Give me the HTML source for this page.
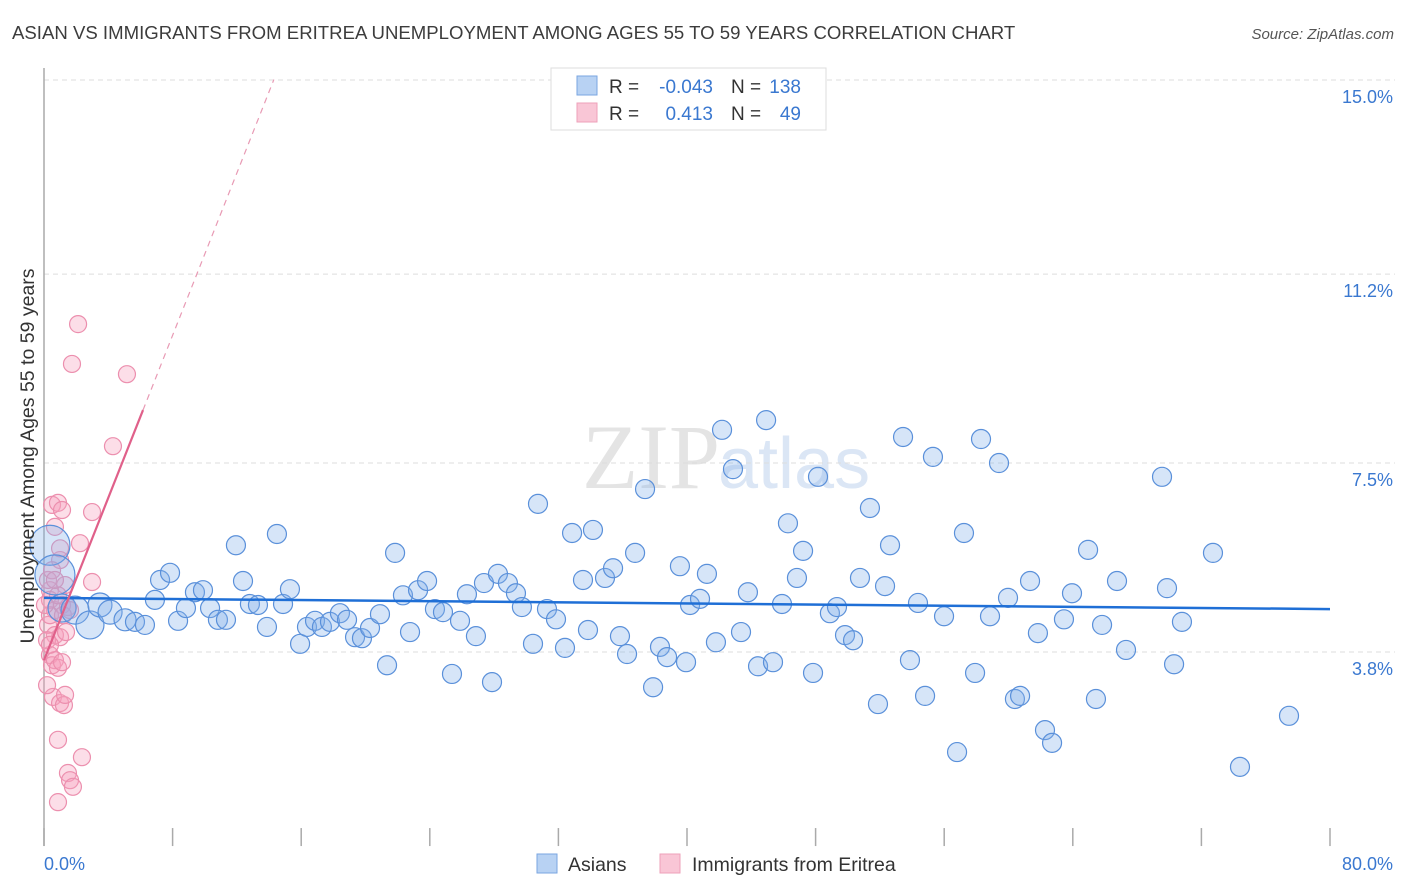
<!DOCTYPE html>
<html><head><meta charset="utf-8"><style>
body{margin:0;background:#fff;font-family:"Liberation Sans",sans-serif;}
#wrap{position:relative;width:1406px;height:892px;overflow:hidden;}
</style></head><body>
<div id="wrap">
<svg id="chart" width="1406" height="892" xmlns="http://www.w3.org/2000/svg">
<text x="12" y="39" font-size="18.6" fill="#3c3c3c">ASIAN VS IMMIGRANTS FROM ERITREA UNEMPLOYMENT AMONG AGES 55 TO 59 YEARS CORRELATION CHART</text>
<text x="1394" y="39" font-size="15" fill="#555" font-style="italic" text-anchor="end">Source: ZipAtlas.com</text>
<text x="720" y="488" font-size="92" fill="#e4e4e4" text-anchor="end" font-family="Liberation Serif">ZIP</text>
<text x="718" y="488" font-size="72" fill="#dbe6f5">atlas</text>
<g id="grid"></g><g id="axes"></g><g id="pinkPts"></g><g id="bluePts"></g><g id="lines"></g>
<text transform="translate(34,456) rotate(-90)" font-size="19.5" fill="#333" text-anchor="middle">Unemployment Among Ages 55 to 59 years</text>
<text x="44" y="870" font-size="18" fill="#3a78d0">0.0%</text>
<text x="1393" y="870" font-size="18" fill="#3a78d0" text-anchor="end">80.0%</text>
<g>
<rect x="551" y="68" width="275" height="62" fill="#fff" stroke="#ddd"/>
<rect x="577" y="76" width="20" height="19" fill="#b8d2f3" stroke="#7aa6e0"/>
<rect x="577" y="103" width="20" height="19" fill="#f9c6d6" stroke="#eea0ba"/>
<text x="609" y="93" font-size="19" fill="#333">R =</text>
<text x="713" y="93" font-size="19" fill="#3a78d0" text-anchor="end">-0.043</text>
<text x="731" y="93" font-size="19" fill="#333">N =</text>
<text x="801" y="93" font-size="19" fill="#3a78d0" text-anchor="end">138</text>
<text x="609" y="120" font-size="19" fill="#333">R =</text>
<text x="713" y="120" font-size="19" fill="#3a78d0" text-anchor="end">0.413</text>
<text x="731" y="120" font-size="19" fill="#333">N =</text>
<text x="801" y="120" font-size="19" fill="#3a78d0" text-anchor="end">49</text>
</g>
<g>
<rect x="537" y="854" width="20" height="19" fill="#b8d2f3" stroke="#7aa6e0"/>
<text x="568" y="871" font-size="19.5" fill="#333">Asians</text>
<rect x="660" y="854" width="20" height="19" fill="#f9c6d6" stroke="#eea0ba"/>
<text x="692" y="871" font-size="19.5" fill="#333">Immigrants from Eritrea</text>
</g>
</svg>
</div>
<script>
const yTicks=[15.0,11.2,7.5,3.8];
const yTickLabels=["15.0%","11.2%","7.5%","3.8%"];
const xTicks=[0,8,16,24,32,40,48,56,64,72,80];
const blueX=[0.37,0.68,1.12,1.93,2.86,3.48,4.11,5.04,5.66,6.28,6.90,7.22,7.84,8.34,8.83,9.39,9.89,10.33,10.82,11.32,11.94,12.38,12.81,13.31,13.87,14.49,14.87,15.30,15.93,16.36,16.86,17.29,17.79,18.41,18.85,19.35,19.78,20.28,20.90,21.34,21.84,22.33,22.77,23.27,23.83,24.32,24.82,25.38,25.88,26.31,26.87,27.37,27.87,28.24,28.86,29.36,29.73,30.42,30.73,31.29,31.85,32.41,32.85,33.53,33.84,34.15,34.90,35.40,35.83,36.27,36.77,37.39,37.89,38.32,38.76,39.56,39.94,40.19,40.81,41.24,41.80,42.18,42.86,43.36,43.79,44.42,44.92,45.35,45.91,46.28,46.84,47.22,47.84,48.15,48.89,49.33,49.83,50.33,50.76,51.38,51.88,52.32,52.63,53.44,53.87,54.37,54.81,55.30,55.99,56.80,57.23,57.92,58.29,58.85,59.41,59.97,60.40,60.72,61.34,61.83,62.27,62.71,63.45,63.95,64.95,65.44,65.82,66.75,67.31,69.55,69.86,70.30,70.79,72.72,74.40,77.45];
const blueY=[5.89,5.31,4.66,4.62,4.33,4.72,4.58,4.43,4.39,4.33,4.82,5.21,5.35,4.41,4.66,4.97,5.01,4.66,4.43,4.43,5.89,5.19,4.74,4.72,4.29,6.11,4.74,5.03,3.96,4.29,4.41,4.29,4.39,4.56,4.43,4.09,4.07,4.27,4.54,3.54,5.74,4.91,4.19,5.01,5.19,4.64,4.58,3.37,4.41,4.93,4.11,5.15,3.21,5.33,5.15,4.95,4.68,3.96,6.70,4.64,4.44,3.88,6.13,5.21,4.23,6.19,5.25,5.44,4.11,3.76,5.74,6.99,3.11,3.90,3.70,5.48,3.60,4.72,4.84,5.33,3.99,8.15,7.38,4.19,4.97,3.52,8.34,3.60,4.74,6.32,5.25,5.78,3.39,7.23,4.56,4.68,4.13,4.03,5.25,6.62,2.78,5.09,5.89,8.01,3.64,4.76,2.94,7.62,4.50,1.84,6.13,3.39,7.97,4.50,7.50,4.86,2.88,2.94,5.19,4.17,2.27,2.02,4.44,4.95,5.80,2.88,4.33,5.19,3.84,7.23,5.05,3.56,4.39,5.74,1.55,2.55];
const blueSize=[20,20,14,14,14,12,12,11];
const pinkX=[0.50,0.87,1.12,0.68,1.00,1.31,2.99,2.24,2.99,0.37,0.37,0.68,1.12,1.49,0.25,0.68,1.00,1.37,0.37,0.50,0.68,0.87,1.12,0.56,1.00,1.24,1.31,0.87,2.36,1.49,1.62,1.80,0.87,2.12,1.74,5.16,4.29,0.37,0.25,0.50,0.87,0.06,0.19,0.68,1.00,0.37,0.19,1.18,1.62];
const pinkY=[6.68,6.72,6.58,6.25,5.60,5.11,6.54,5.93,5.17,5.01,4.82,4.62,4.72,4.68,4.33,4.13,4.09,4.19,3.74,3.54,3.64,3.49,3.60,2.92,2.80,2.76,2.96,2.08,1.74,1.43,1.29,1.16,0.86,10.22,9.44,9.24,7.83,4.52,5.21,5.40,4.91,4.72,4.03,5.21,5.83,3.94,3.15,4.52,4.62];
const blueTrend=[4.86,4.64];
const pinkTrend=[3.64,0.795];
const NS="http://www.w3.org/2000/svg";
const X=v=>44+v/80*1286;
const Y=v=>80+(15-v)*51.07;
function mk(tag,attrs,parent){const e=document.createElementNS(NS,tag);for(const k in attrs)e.setAttribute(k,attrs[k]);document.getElementById(parent).appendChild(e);return e;}
yTicks.forEach((t,i)=>{
  const l=mk('line',{x1:44,x2:1395,y1:Y(t),y2:Y(t),stroke:'#ddd','stroke-dasharray':'5,4'},'grid');
  
  
  const tx=mk('text',{x:1393,y:Y(t)+23,'font-size':18,fill:'#3a78d0','text-anchor':'end'},'grid');
  tx.textContent=yTickLabels[i];
  
  
});
const ax=mk('line',{x1:44,x2:44,y1:68,y2:Y(0),stroke:'#aaa','stroke-width':1.5},'axes');


xTicks.forEach(t=>{
  const l=mk('line',{x1:X(t),x2:X(t),y1:Y(0)-18,y2:Y(0),stroke:'#aaa','stroke-width':1.5},'axes');
  
  
});
pinkX.forEach((x,i)=>{
  const c=mk('circle',{cx:X(x),cy:Y(pinkY[i]),r:8.5,fill:'rgba(245,160,190,0.35)',stroke:'#ec8fae','stroke-width':1.2},'pinkPts');
  
  
});
blueX.forEach((x,i)=>{
  const c=mk('circle',{cx:X(x),cy:Y(blueY[i]),r:blueSize[i]||9.5,fill:'rgba(130,175,235,0.33)',stroke:'#5a90da','stroke-width':1.2},'bluePts');
  
  
});
const bl=mk('line',{x1:X(0),y1:Y(blueTrend[0]),x2:X(80),y2:Y(blueTrend[1]),stroke:'#1f6fd6','stroke-width':2.5},'lines');


const pe=6.16, pd=14.3;
const pl=mk('line',{x1:X(0),y1:Y(pinkTrend[0]),x2:X(pe),y2:Y(pinkTrend[0]+pinkTrend[1]*pe),stroke:'#e0608a','stroke-width':2.2},'lines');


const pdl=mk('line',{x1:X(pe),y1:Y(pinkTrend[0]+pinkTrend[1]*pe),x2:X(pd),y2:Y(pinkTrend[0]+pinkTrend[1]*pd),stroke:'#e89ab4','stroke-width':1.2,'stroke-dasharray':'6,5'},'lines');


</script>
</body></html>
